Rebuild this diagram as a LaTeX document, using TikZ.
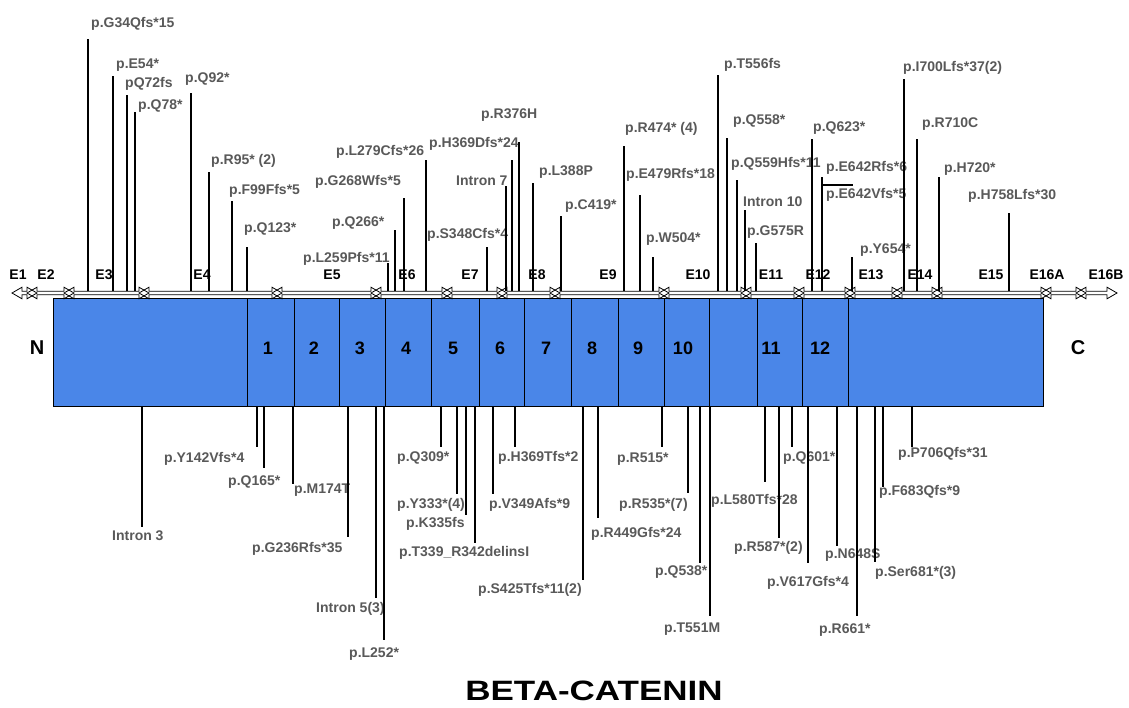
\documentclass[tikz,border=0pt]{standalone}
\usepackage{fontspec}
\setmainfont{Liberation Sans}
\definecolor{pblue}{HTML}{4A86E8}
\definecolor{lbl}{HTML}{595959}
\tikzset{
  mlab/.style={font=\fontsize{14}{16}\selectfont\bfseries, text=lbl, inner sep=0pt, anchor=base west},
  mline/.style={line width=1.2pt, black},
  exlab/.style={font=\fontsize{14}{16}\selectfont\bfseries, text=black, inner sep=0pt, anchor=base},
  exarrow/.style={draw=black, line width=0.8pt, line join=miter},
  domnum/.style={font=\fontsize{18}{20}\selectfont\bfseries, text=black, inner sep=0pt},
  term/.style={font=\fontsize{20}{22}\selectfont\bfseries, text=black, inner sep=0pt},
  dividerline/.style={line width=1pt, black}
}
% top mutation: name, line x, line top y, label x, label centre y, text
\newcommand\mutup[6]{%
  \coordinate (#1b) at (#2,291);
  \coordinate (#1t) at (#2,#3);
  \draw[mline] (#1b) -- (#1t);
  \node[mlab] (#1) at (#4,#5+5) {#6};}
% bottom mutation
\newcommand\mutdn[6]{%
  \coordinate (#1b) at (#2,407);
  \coordinate (#1t) at (#2,#3);
  \draw[mline] (#1b) -- (#1t);
  \node[mlab] (#1) at (#4,#5+5) {#6};}
% exon double arrow between two junctions
\newcommand\exarr[2]{%
  \draw[exarrow] (#1-5,293) -- (#1+5,287.2) -- (#1+5,291.3) -- (#2-5,291.3) -- (#2-5,287.2) -- (#2+5,293)
     -- (#2-5,298.8) -- (#2-5,294.7) -- (#1+5,294.7) -- (#1+5,298.8) -- cycle;}
\begin{document}
\begin{tikzpicture}[x=1pt,y=-1pt]
\fill[white] (0,0) rectangle (1129,707);
\useasboundingbox (0,0) rectangle (1129,707);

% protein bar
\draw[fill=pblue, line width=1pt] (53,298) rectangle (1043,406);
\node[inner sep=0pt, minimum width=990pt, minimum height=108pt] (protein) at (548,352) {};
\foreach \x in {247,294,339,385,431,479,524,571,618,664,709,757,802,848}
  \draw[dividerline] (\x,298) -- (\x,406);
\node[domnum] (n1) at (268,348) {1};
\node[domnum] (n2) at (314,348) {2};
\node[domnum] (n3) at (360,348) {3};
\node[domnum] (n4) at (406,348) {4};
\node[domnum] (n5) at (453,348) {5};
\node[domnum] (n6) at (500,348) {6};
\node[domnum] (n7) at (546,348) {7};
\node[domnum] (n8) at (592,348) {8};
\node[domnum] (n9) at (638,348) {9};
\node[domnum] (n10) at (683,348) {10};
\node[domnum] (n11) at (771,348) {11};
\node[domnum] (n12) at (820,348) {12};
\node[term] (Nterm) at (37,348) {N};
\node[term] (Cterm) at (1078,348) {C};

% exon axis
\exarr{17}{32}
\exarr{32}{69}
\exarr{69}{144}
\exarr{144}{277}
\exarr{277}{376}
\exarr{376}{447}
\exarr{447}{502}
\exarr{502}{555}
\exarr{555}{664}
\exarr{664}{746}
\exarr{746}{799}
\exarr{799}{850}
\exarr{850}{897}
\exarr{897}{937}
\exarr{937}{1046}
\exarr{1046}{1081}
\exarr{1081}{1112}
\node[exlab] (e1) at (18,279) {E1};
\node[exlab] (e2) at (46,279) {E2};
\node[exlab] (e3) at (104,279) {E3};
\node[exlab] (e4) at (202,279) {E4};
\node[exlab] (e5) at (332,279) {E5};
\node[exlab] (e6) at (407,279) {E6};
\node[exlab] (e7) at (470,279) {E7};
\node[exlab] (e8) at (537,279) {E8};
\node[exlab] (e9) at (608,279) {E9};
\node[exlab] (e10) at (698,279) {E10};
\node[exlab] (e11) at (771,279) {E11};
\node[exlab] (e12) at (818,279) {E12};
\node[exlab] (e13) at (871,279) {E13};
\node[exlab] (e14) at (920,279) {E14};
\node[exlab] (e15) at (991,279) {E15};
\node[exlab] (e16a) at (1047,279) {E16A};
\node[exlab] (e16b) at (1106,279) {E16B};

% top mutations
\mutup{u1}{88}{39}{91}{22}{p.G34Qfs*15}
\mutup{u2}{113}{76}{116}{63}{p.E54*}
\mutup{u3}{127}{95}{125}{82}{pQ72fs}
\mutup{u4}{135}{112}{138}{104}{p.Q78*}
\mutup{u5}{191}{93}{185}{77}{p.Q92*}
\mutup{u6}{209}{172}{211}{159}{p.R95* (2)}
\mutup{u7}{232}{201}{229}{189}{p.F99Ffs*5}
\mutup{u8}{247}{247}{244}{227}{p.Q123*}
\mutup{u9}{388}{263}{303}{257}{p.L259Pfs*11}
\mutup{u10}{395}{230}{332}{221}{p.Q266*}
\mutup{u11}{404}{198}{315}{180}{p.G268Wfs*5}
\mutup{u12}{426}{160}{336}{150}{p.L279Cfs*26}
\mutup{u13}{487}{247}{427}{233}{p.S348Cfs*4}
\mutup{u14}{506}{186}{456}{180}{Intron 7}
\mutup{u15}{512}{160}{429}{142}{p.H369Dfs*24}
\mutup{u16}{519}{142}{481}{113}{p.R376H}
\mutup{u17}{533}{183}{539}{170}{p.L388P}
\mutup{u18}{561}{216}{565}{204}{p.C419*}
\mutup{u19}{624}{146}{625}{127}{p.R474* (4)}
\mutup{u20}{640}{195}{626}{173}{p.E479Rfs*18}
\mutup{u21}{653}{257}{646}{237}{p.W504*}
\mutup{u22}{718}{75}{724}{63}{p.T556fs}
\mutup{u23}{727}{138}{733}{119}{p.Q558*}
\mutup{u24}{737}{180}{731}{162}{p.Q559Hfs*11}
\mutup{u25}{745}{210}{743}{201}{Intron 10}
\mutup{u26}{756}{243}{747}{230}{p.G575R}
\mutup{u27}{812}{139}{813}{126}{p.Q623*}
\mutup{u28}{822}{177}{826}{166}{p.E642Rfs*6}
\coordinate (u29a) at (822,185);
\coordinate (u29b) at (853,185);
\draw[mline] (u29a) -- (u29b);
\node[mlab] (u29) at (826,198) {p.E642Vfs*5};
\mutup{u30}{852}{257}{860}{248}{p.Y654*}
\mutup{u31}{904}{79}{903}{66}{p.I700Lfs*37(2)}
\mutup{u32}{917}{139}{922}{122}{p.R710C}
\mutup{u33}{939}{177}{944}{167}{p.H720*}
\mutup{u34}{1009}{213}{968}{194}{p.H758Lfs*30}

% bottom mutations
\mutdn{d1}{142}{527}{112}{535}{Intron 3}
\mutdn{d2}{257}{447}{164}{457}{p.Y142Vfs*4}
\mutdn{d3}{264}{468}{228}{480}{p.Q165*}
\mutdn{d4}{293}{484}{294}{488}{p.M174T}
\mutdn{d5}{348}{537}{252}{547}{p.G236Rfs*35}
\mutdn{d6}{376}{598}{316}{607}{Intron 5(3)}
\mutdn{d7}{384}{640}{349}{652}{p.L252*}
\mutdn{d8}{441}{447}{397}{456}{p.Q309*}
\mutdn{d9}{457}{494}{397}{503}{p.Y333*(4)}
\mutdn{d10}{466}{515}{406}{522}{p.K335fs}
\mutdn{d11}{475}{543}{399}{551}{p.T339\_R342delinsI}
\mutdn{d12}{515}{447}{498}{456}{p.H369Tfs*2}
\mutdn{d13}{493}{494}{489}{503}{p.V349Afs*9}
\mutdn{d14}{583}{580}{478}{588}{p.S425Tfs*11(2)}
\mutdn{d15}{598}{518}{591}{532}{p.R449Gfs*24}
\mutdn{d16}{662}{447}{617}{457}{p.R515*}
\mutdn{d17}{688}{493}{619}{503}{p.R535*(7)}
\mutdn{d18}{700}{563}{655}{570}{p.Q538*}
\mutdn{d19}{710}{616}{664}{627}{p.T551M}
\mutdn{d20}{765}{482}{711}{499}{p.L580Tfs*28}
\mutdn{d21}{779}{538}{734}{546}{p.R587*(2)}
\mutdn{d22}{792}{447}{783}{456}{p.Q601*}
\mutdn{d23}{808}{563}{767}{581}{p.V617Gfs*4}
\mutdn{d24}{837}{546}{825}{553}{p.N648S}
\mutdn{d25}{857}{616}{819}{628}{p.R661*}
\mutdn{d26}{875}{562}{875}{571}{p.Ser681*(3)}
\mutdn{d27}{883}{487}{879}{490}{p.F683Qfs*9}
\mutdn{d28}{912}{447}{898}{452}{p.P706Qfs*31}

% title
\node[font=\fontsize{28}{30}\selectfont\bfseries, text=black, inner sep=0pt, xscale=1.25, anchor=base] (title) at (594,700) {BETA-CATENIN};
\end{tikzpicture}
\end{document}
